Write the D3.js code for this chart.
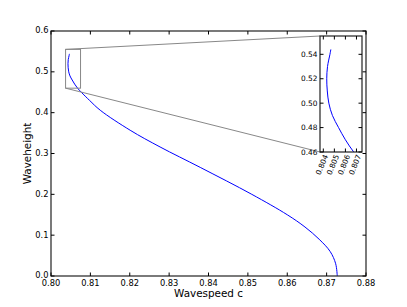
<!DOCTYPE html>
<html>
<head>
<meta charset="utf-8">
<script src="https://cdn.jsdelivr.net/npm/d3@7"></script>
<style>
  html, body { margin: 0; padding: 0; background: #fff; }
  svg { display: block; }
  text { font-family: "DejaVu Sans", sans-serif; fill: #000; }
</style>
</head>
<body>
<svg id="chart" width="407" height="307"></svg>
<script>
// ---- data ----
const waveheight = [0.544, 0.540, 0.530, 0.520, 0.510, 0.500, 0.490, 0.480, 0.470, 0.460,
                    0.450, 0.430, 0.406, 0.357, 0.316, 0.266, 0.200, 0.150, 0.120, 0.090, 0.060, 0.030, 0.000];
const wavespeed  = [0.80468, 0.80460, 0.80438, 0.80431, 0.80436, 0.80450, 0.80482, 0.80538, 0.80600, 0.80675,
                    0.80770, 0.8098, 0.8125, 0.8201, 0.8277, 0.8379, 0.8510, 0.8600, 0.8645, 0.8681, 0.8709, 0.8723, 0.8727];
const xTicks = [0.80, 0.81, 0.82, 0.83, 0.84, 0.85, 0.86, 0.87, 0.88];
const yTicks = [0.0, 0.1, 0.2, 0.3, 0.4, 0.5, 0.6];
const insetXDomain = [0.8037, 0.8075];
const insetYDomain = [0.46, 0.555];
const insetXTicks = [0.804, 0.805, 0.806, 0.807];
const insetYTicks = [0.46, 0.48, 0.50, 0.52, 0.54];
const xLabel = "Wavespeed c";
const yLabel = "Waveheight";

const pts = wavespeed.map((c, i) => ({c, h: waveheight[i]}));
const svg = d3.select("#chart");

// ---- main axes ----
const M = {left: 51, right: 366, top: 31, bottom: 276};
const x = d3.scaleLinear().domain([0.80, 0.88]).range([M.left, M.right]);
const y = d3.scaleLinear().domain([0.0, 0.6]).range([M.bottom, M.top]);

const defs = svg.append("defs");
defs.append("clipPath").attr("id", "mainclip")
  .append("rect").attr("x", M.left).attr("y", M.top)
  .attr("width", M.right - M.left).attr("height", M.bottom - M.top);

const line = d3.line().x(d => x(d.c)).y(d => y(d.h)).curve(d3.curveCatmullRom);

const bx0 = x(insetXDomain[0]), bx1 = x(insetXDomain[1]);
const by0 = y(insetYDomain[1]), by1 = y(insetYDomain[0]);

// ---- inset axes geometry ----
const I = {left: 320, right: 362, top: 36, bottom: 152};
const xi = d3.scaleLinear().domain(insetXDomain).range([I.left, I.right]);
const yi = d3.scaleLinear().domain(insetYDomain).range([I.bottom, I.top]);

svg.append("path").datum(pts)
  .attr("d", line).attr("fill", "none").attr("stroke", "#0000ff")
  .attr("stroke-width", 1).attr("clip-path", "url(#mainclip)");

const gray = "#888888";
svg.append("rect").attr("x", bx0).attr("y", by0)
  .attr("width", bx1 - bx0).attr("height", by1 - by0)
  .attr("fill", "none").attr("stroke", gray).attr("stroke-width", 1);
svg.append("line").attr("x1", bx0).attr("y1", by0).attr("x2", I.left).attr("y2", I.top)
  .attr("stroke", gray).attr("stroke-width", 1);
svg.append("line").attr("x1", bx0).attr("y1", by1).attr("x2", I.left).attr("y2", I.bottom)
  .attr("stroke", gray).attr("stroke-width", 1);

// main axes frame & ticks
const tickLen = 3.5;
const gMain = svg.append("g");
gMain.append("rect").attr("x", M.left).attr("y", M.top)
  .attr("width", M.right - M.left).attr("height", M.bottom - M.top)
  .attr("fill", "none").attr("stroke", "#222").attr("stroke-width", 1.2);

xTicks.forEach(t => {
  const px = x(t);
  gMain.append("line").attr("x1", px).attr("x2", px).attr("y1", M.bottom).attr("y2", M.bottom - tickLen).attr("stroke", "#000");
  gMain.append("line").attr("x1", px).attr("x2", px).attr("y1", M.top).attr("y2", M.top + tickLen).attr("stroke", "#000");
  gMain.append("text").attr("x", px).attr("y", M.bottom + 9.5).attr("text-anchor", "middle")
    .attr("font-size", "8.3px").text(d3.format(".2f")(t));
});
yTicks.forEach(t => {
  const py = y(t);
  gMain.append("line").attr("y1", py).attr("y2", py).attr("x1", M.left).attr("x2", M.left + tickLen).attr("stroke", "#000");
  gMain.append("line").attr("y1", py).attr("y2", py).attr("x1", M.right).attr("x2", M.right - tickLen).attr("stroke", "#000");
  gMain.append("text").attr("x", M.left - 2.5).attr("y", py).attr("dy", "0.3em").attr("text-anchor", "end")
    .attr("font-size", "8.3px").text(d3.format(".1f")(t));
});

svg.append("text").attr("x", (M.left + M.right) / 2).attr("y", 297)
  .attr("text-anchor", "middle").attr("font-size", "10.4px").text(xLabel);
svg.append("text").attr("transform", `translate(31,${(M.top + M.bottom) / 2}) rotate(-90)`)
  .attr("text-anchor", "middle").attr("font-size", "10.4px").text(yLabel);

// ---- inset ----
defs.append("clipPath").attr("id", "insetclip")
  .append("rect").attr("x", I.left).attr("y", I.top)
  .attr("width", I.right - I.left).attr("height", I.bottom - I.top);

const gIn = svg.append("g");
gIn.append("rect").attr("x", I.left).attr("y", I.top)
  .attr("width", I.right - I.left).attr("height", I.bottom - I.top)
  .attr("fill", "#fff").attr("stroke", "none");

const lineI = d3.line().x(d => xi(d.c)).y(d => yi(d.h)).curve(d3.curveCatmullRom);
gIn.append("path").datum(pts).attr("d", lineI)
  .attr("fill", "none").attr("stroke", "#0000ff").attr("stroke-width", 1)
  .attr("clip-path", "url(#insetclip)");

gIn.append("rect").attr("x", I.left).attr("y", I.top)
  .attr("width", I.right - I.left).attr("height", I.bottom - I.top)
  .attr("fill", "none").attr("stroke", "#222").attr("stroke-width", 1.2);

insetXTicks.forEach(t => {
  const px = xi(t);
  gIn.append("line").attr("x1", px).attr("x2", px).attr("y1", I.bottom).attr("y2", I.bottom - tickLen).attr("stroke", "#000");
  gIn.append("line").attr("x1", px).attr("x2", px).attr("y1", I.top).attr("y2", I.top + tickLen).attr("stroke", "#000");
  gIn.append("text")
    .attr("transform", `translate(${px + 2.5},${I.bottom + 3}) rotate(-68)`)
    .attr("text-anchor", "end").attr("dy", "0.35em")
    .attr("font-size", "7.4px").text(d3.format(".3f")(t));
});
insetYTicks.forEach(t => {
  const py = yi(t);
  gIn.append("line").attr("y1", py).attr("y2", py).attr("x1", I.left).attr("x2", I.left + tickLen).attr("stroke", "#000");
  gIn.append("line").attr("y1", py).attr("y2", py).attr("x1", I.right).attr("x2", I.right - tickLen).attr("stroke", "#000");
  gIn.append("text").attr("x", I.left - 2.5).attr("y", py).attr("dy", "0.35em").attr("text-anchor", "end")
    .attr("font-size", "7.4px").text(d3.format(".2f")(t));
});
</script>
</body>
</html>
